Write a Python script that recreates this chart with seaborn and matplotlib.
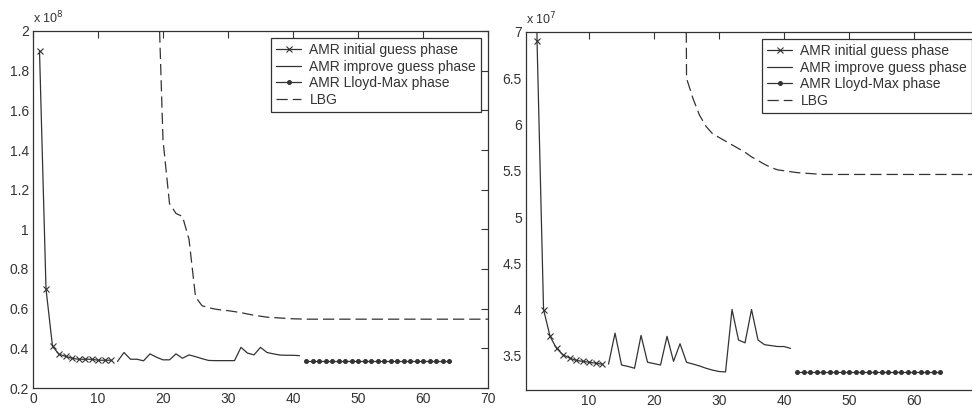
import matplotlib
matplotlib.use("Agg")
import matplotlib.pyplot as plt
from matplotlib.ticker import FuncFormatter
import seaborn as sns

# left panel, values in units of 1e8
left_init_x = list(range(1, 13))
left_init_y = [1.90, 0.70, 0.41, 0.37, 0.36, 0.35, 0.345, 0.345, 0.345, 0.34, 0.34, 0.34]
left_impr_x = list(range(13, 42))
left_impr_y = [0.334, 0.379, 0.345, 0.345, 0.337, 0.372, 0.355, 0.342, 0.342, 0.372,
               0.35, 0.367, 0.358, 0.348, 0.339, 0.338, 0.338, 0.338, 0.338, 0.405,
               0.376, 0.367, 0.405, 0.379, 0.372, 0.366, 0.365, 0.365, 0.363]
left_lloyd_x = list(range(42, 65))
left_lloyd_y = [0.338] * 23
left_lbg_x = list(range(19, 71))
left_lbg_y = [2.5, 1.45, 1.13, 1.08, 1.065, 0.95, 0.66, 0.615, 0.605, 0.598,
              0.593, 0.59, 0.585, 0.58, 0.573, 0.567, 0.562, 0.557, 0.555, 0.553,
              0.551, 0.549, 0.548] + [0.547] * 29

# right panel, values in units of 1e7
right_init_x = list(range(1, 13))
right_init_y = [19.0, 6.9, 4.0, 3.71, 3.58, 3.51, 3.475, 3.45, 3.44, 3.43, 3.42, 3.41]
right_impr_x = list(range(13, 42))
right_impr_y = [3.41, 3.745, 3.40, 3.385, 3.365, 3.72, 3.43, 3.415, 3.40, 3.71,
                3.44, 3.63, 3.43, 3.41, 3.39, 3.365, 3.345, 3.33, 3.325, 4.0,
                3.67, 3.64, 4.0, 3.67, 3.62, 3.61, 3.60, 3.60, 3.58]
right_lloyd_x = list(range(42, 65))
right_lloyd_y = [3.32] * 23
right_lbg_x = list(range(24, 71))
right_lbg_y = [20.0, 6.5, 6.28, 6.1, 5.98, 5.9, 5.86, 5.82, 5.78, 5.74,
               5.7, 5.65, 5.61, 5.57, 5.535, 5.51, 5.5, 5.49, 5.48, 5.475,
               5.47, 5.465] + [5.46] * 25

labels = ["AMR initial guess phase", "AMR improve guess phase",
          "AMR Lloyd-Max phase", "LBG"]

sns.set_style("white")
plt.rcParams['font.family'] = ['Liberation Sans', 'DejaVu Sans']
ink = "#333333"

W, H = 972, 411
fig = plt.figure(figsize=(W / 100, H / 100), dpi=100)
ax1 = fig.add_axes([33 / W, (H - 388) / H, 455 / W, 357 / H])
ax2 = fig.add_axes([526 / W, (H - 390) / H, 453 / W, 358 / H])


def draw(ax, d, xlim, ylim, yticks, xticks, exp):
    (ix, iy), (px, py), (lx, ly), (gx, gy) = d
    sns.lineplot(x=ix, y=iy, ax=ax, color=ink, lw=0.9, marker="x", markersize=4,
                 markeredgewidth=0.8, markeredgecolor=ink, label=labels[0])
    sns.lineplot(x=px, y=py, ax=ax, color=ink, lw=0.9, label=labels[1])
    sns.lineplot(x=lx, y=ly, ax=ax, color=ink, lw=0.9, marker="o", markersize=2.8,
                 markeredgecolor=ink, label=labels[2])
    sns.lineplot(x=gx, y=gy, ax=ax, color=ink, lw=0.9, linestyle=(0, (9, 4)),
                 label=labels[3])
    ax.set_xlim(*xlim)
    ax.set_ylim(*ylim)
    ax.set_yticks(yticks)
    ax.set_xticks(xticks)
    ax.yaxis.set_major_formatter(FuncFormatter(lambda v, p: "%g" % round(v, 3)))
    ax.tick_params(direction="in", top=True, right=True, length=5, width=0.8,
                   colors=ink, labelsize=10, pad=3)
    for s in ax.spines.values():
        s.set_visible(True)
        s.set_color(ink)
        s.set_linewidth(0.9)
    ax.text(0.0, 1.012, r"x 10$^{%d}$" % exp, transform=ax.transAxes, fontsize=9,
            color=ink, ha="left", va="bottom")
    leg = ax.legend(loc="upper right", fontsize=10, frameon=True, fancybox=False,
                    edgecolor=ink, framealpha=1, borderaxespad=0.5, handlelength=1.8,
                    handletextpad=0.6, labelspacing=0.2, borderpad=0.35)
    leg.get_frame().set_linewidth(0.9)
    for t in leg.get_texts():
        t.set_color(ink)


draw(ax1, [(left_init_x, left_init_y), (left_impr_x, left_impr_y),
           (left_lloyd_x, left_lloyd_y), (left_lbg_x, left_lbg_y)],
     (0, 70), (0.2, 2.0), [0.2, 0.4, 0.6, 0.8, 1.0, 1.2, 1.4, 1.6, 1.8, 2.0],
     list(range(0, 71, 10)), 8)
# the right panel runs past the picture's edge, so its 70 is not shown
draw(ax2, [(right_init_x, right_init_y), (right_impr_x, right_impr_y),
           (right_lloyd_x, right_lloyd_y), (right_lbg_x, right_lbg_y)],
     (0.3, 70), (3.13, 7.0), [3.5, 4, 4.5, 5, 5.5, 6, 6.5, 7],
     list(range(10, 61, 10)), 7)

fig.savefig("out.png", dpi=100, facecolor="white")
